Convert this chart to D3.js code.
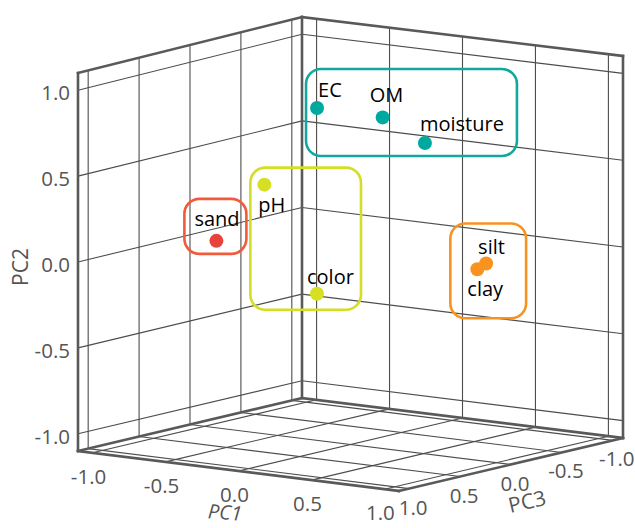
<!DOCTYPE html>
<html>
<head>
<meta charset="utf-8">
<script src="https://cdn.jsdelivr.net/npm/d3@7"></script>
<style>
  body { margin: 0; background: #fff; }
  svg { display: block; }
  text { font-family: 'Open Sans', sans-serif; }
</style>
</head>
<body>
<svg id="chart"></svg>
<script>
// Variables and their loadings on the first three principal components
const names = ['EC', 'OM', 'moisture', 'pH', 'color', 'sand', 'silt', 'clay']
const pc1 = [-0.02, 0.36, 0.58, -0.73, -0.16, -0.64, 0.72, 0.66]
const pc2 = [0.89, 0.86, 0.72, 0.30, -0.23, 0.07, -0.02, -0.06]
const pc3 = [0.3, 0.2, 0.1, -0.2, 0.1, 0.4, -0.3, -0.3]
const groupOf = ['water', 'water', 'water', 'chem', 'chem', 'coarse', 'fine', 'fine']

const ticks = [-1.0, -0.5, 0.0, 0.5, 1.0]
const lim = 1.1

const svgWidth = 635
const svgHeight = 528

const svg = d3.select('#chart')
  .attr('width', svgWidth)
  .attr('height', svgHeight)

// normalised axis scales, 0 at the back/bottom corner, 1 at the far end
const s1 = d3.scaleLinear().domain([-lim, lim]).range([0, 1])
const s2 = d3.scaleLinear().domain([-lim, lim]).range([0, 1])
const s3 = d3.scaleLinear().domain([-lim, lim]).range([0, 1])

// screen placement of the box: back-bottom corner and the edge vectors
const corner = [302, 398]
const e1 = [321, 40] // PC1 -1.1 -> 1.1
const e3 = [-224, 53] // PC3 -1.1 -> 1.1
const heightAt = (u, w) => 381 + 1.0 * u - 3.0 * w // slight perspective on the verticals

function project (a, b, c) {
  const u = s1(a)
  const v = s2(b)
  const w = s3(c)
  const x = corner[0] + u * e1[0] + w * e3[0]
  const y = corner[1] + u * e1[1] + w * e3[1] - v * heightAt(u, w)
  return [x, y]
}

const line = d3.line()
const gridColor = '#4d4d4d'
const edgeColor = '#595959'

const grid = svg.append('g')
  .attr('fill', 'none')
  .attr('stroke', gridColor)
  .attr('stroke-width', 1.1)

const segs = []
ticks.forEach(t => {
  // left wall, PC1 = -lim
  segs.push([project(-lim, -lim, t), project(-lim, lim, t)])
  segs.push([project(-lim, t, -lim), project(-lim, t, lim)])
  // back wall, PC3 = -lim
  segs.push([project(t, -lim, -lim), project(t, lim, -lim)])
  segs.push([project(-lim, t, -lim), project(lim, t, -lim)])
  // floor, PC2 = -lim
  segs.push([project(t, -lim, -lim), project(t, -lim, lim)])
  segs.push([project(-lim, -lim, t), project(lim, -lim, t)])
})

grid.selectAll('path')
  .data(segs)
  .enter()
  .append('path')
  .attr('d', d => line(d))

// box outline
const edges = [
  [[-lim, -lim, lim], [-lim, lim, lim]],
  [[-lim, -lim, -lim], [-lim, lim, -lim]],
  [[lim, -lim, -lim], [lim, lim, -lim]],
  [[-lim, lim, lim], [-lim, lim, -lim]],
  [[-lim, lim, -lim], [lim, lim, -lim]],
  [[-lim, -lim, lim], [-lim, -lim, -lim]],
  [[-lim, -lim, -lim], [lim, -lim, -lim]],
  [[-lim, -lim, lim], [lim, -lim, lim]],
  [[lim, -lim, lim], [lim, -lim, -lim]]
]

svg.append('g')
  .attr('fill', 'none')
  .attr('stroke', edgeColor)
  .attr('stroke-width', 2.6)
  .attr('stroke-linecap', 'square')
  .selectAll('path')
  .data(edges)
  .enter()
  .append('path')
  .attr('d', d => line(d.map(p => project(...p))))

// tick labels, plain hyphen for the minus sign
const fmt = d => d3.format('.1f')(d).replace('\u2212', '-')
const tickStyle = sel => sel
  .attr('fill', '#555')
  .attr('font-size', 20.5)
  .attr('dominant-baseline', 'central')

svg.append('g').selectAll('text')
  .data(ticks)
  .enter()
  .append('text')
  .call(tickStyle)
  .attr('text-anchor', 'end')
  .attr('x', d => project(-lim, d, lim)[0] - 8)
  .attr('y', d => project(-lim, d, lim)[1] + 2)
  .text(d => fmt(d))

svg.append('g').selectAll('text')
  .data(ticks)
  .enter()
  .append('text')
  .call(tickStyle)
  .attr('text-anchor', 'middle')
  .attr('x', d => project(d, -lim, lim)[0] - 4)
  .attr('y', d => project(d, -lim, lim)[1] + 23)
  .text(d => fmt(d))

svg.append('g').selectAll('text')
  .data(ticks)
  .enter()
  .append('text')
  .call(tickStyle)
  .attr('text-anchor', 'middle')
  .attr('x', d => project(lim, -lim, d)[0] + 4)
  .attr('y', d => project(lim, -lim, d)[1] + 18)
  .text(d => fmt(d))

// axis titles
svg.append('text')
  .attr('fill', '#555')
  .attr('font-size', 21)
  .attr('text-anchor', 'middle')
  .attr('dominant-baseline', 'central')
  .attr('transform', 'translate(20, 267) rotate(-90)')
  .text('PC2')

svg.append('text')
  .attr('fill', '#555')
  .attr('font-size', 20)
  .attr('font-style', 'italic')
  .attr('text-anchor', 'middle')
  .attr('dominant-baseline', 'central')
  .attr('transform', 'translate(225, 512) rotate(4)')
  .text('PC1')

svg.append('text')
  .attr('fill', '#555')
  .attr('font-size', 21)
  .attr('text-anchor', 'middle')
  .attr('dominant-baseline', 'central')
  .attr('transform', 'translate(527, 501) rotate(-13)')
  .text('PC3')

// groups of variables, each framed by a rounded box
const groups = {
  water: { dot: '#00a99d', box: '#13a89e', pad: [11, 39, 92, 13] },
  chem: { dot: '#d7df23', box: '#d4de25', pad: [14, 17, 44, 16] },
  coarse: { dot: '#e8433a', box: '#f15a3a', pad: [32, 42, 30, 13] },
  fine: { dot: '#f7931e', box: '#f7931e', pad: [27, 40, 40, 49] }
}

// label placement relative to its point (text start, baseline)
const labelOffset = {
  EC: [1, -11],
  OM: [-13, -15],
  moisture: [-5, -12],
  pH: [-6, 27],
  color: [-10, -10],
  sand: [-22, -15],
  silt: [-8, -9],
  clay: [-10, 27]
}

const points = names.map((n, i) => {
  const [x, y] = project(pc1[i], pc2[i], pc3[i])
  return { name: n, group: groupOf[i], x, y }
})

const boxes = Object.keys(groups).map(k => {
  const members = points.filter(p => p.group === k)
  const pad = groups[k].pad
  const x0 = d3.min(members, p => p.x) - pad[0]
  const y0 = d3.min(members, p => p.y) - pad[1]
  const x1 = d3.max(members, p => p.x) + pad[2]
  const y1 = d3.max(members, p => p.y) + pad[3]
  return { key: k, x0, y0, x1, y1 }
})

svg.append('g')
  .selectAll('rect')
  .data(boxes)
  .enter()
  .append('rect')
  .attr('x', d => d.x0)
  .attr('y', d => d.y0)
  .attr('width', d => d.x1 - d.x0)
  .attr('height', d => d.y1 - d.y0)
  .attr('rx', 15)
  .attr('fill', 'none')
  .attr('stroke', d => groups[d.key].box)
  .attr('stroke-width', 2.6)

svg.append('g')
  .selectAll('circle')
  .data(points)
  .enter()
  .append('circle')
  .attr('cx', d => d.x)
  .attr('cy', d => d.y)
  .attr('r', 7)
  .attr('fill', d => groups[d.group].dot)

svg.append('g')
  .selectAll('text')
  .data(points)
  .enter()
  .append('text')
  .attr('x', d => d.x + labelOffset[d.name][0])
  .attr('y', d => d.y + labelOffset[d.name][1])
  .attr('font-size', 20)
  .attr('fill', '#000')
  .text(d => d.name)
</script>
</body>
</html>
